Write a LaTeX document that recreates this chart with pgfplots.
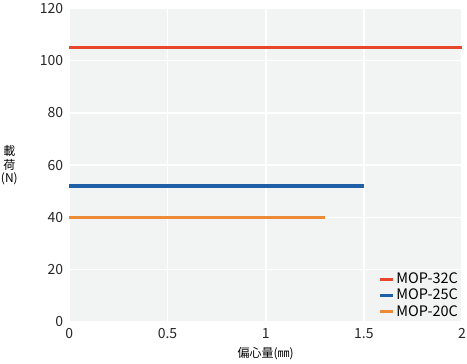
\documentclass[border=0pt]{standalone}
\usepackage{pgfplots}
\pgfplotsset{compat=1.18}
\usepackage{fontspec}
\setmainfont{Noto Sans CJK JP}
\definecolor{bgc}{HTML}{F2F3F3}
\definecolor{c32}{HTML}{E8462A}
\definecolor{c25}{HTML}{1F5FA8}
\definecolor{c20}{HTML}{EC8A35}
\begin{document}
\begin{tikzpicture}
\begin{axis}[
  scale only axis, width=393pt, height=314pt,
  xmin=0, xmax=2, ymin=0, ymax=120,
  xtick={0,0.5,1,1.5,2}, ytick={0,20,...,120},
  xticklabels={0,0.5,1,1.5,2},
  axis background/.style={fill=bgc},
  axis line style={draw=none},
  major tick length=0pt,
  grid=major, grid style={white, line width=1.6pt},
  tick label style={font=\fontsize{14}{16}\selectfont, text=black!85, inner sep=1pt},
  yticklabel style={xshift=-5pt, inner ysep=3pt},
  xticklabel style={yshift=-5pt},
  /pgf/number format/assume math mode=true,
  xlabel={偏心量(㎜)},
  xlabel style={at={(rel axis cs:0.5,0)}, anchor=center, yshift=-32pt,
    font=\fontsize{12}{14}\selectfont, inner ysep=3pt},
  ylabel={\shortstack{載\\荷\\(N)}},
  ylabel style={at={(rel axis cs:0,0.5)}, anchor=center, rotate=-90,
    xshift=-60pt, font=\fontsize{12}{13}\selectfont, inner sep=1pt},
  legend style={at={(1,0.0)}, anchor=south east, draw=none, fill=none,
    font=\fontsize{14.5}{15}\selectfont, row sep=0pt, inner sep=2pt},
  legend cell align=left,
  legend image code/.code={\draw[#1, line width=3pt] (0pt,0pt) -- (13pt,0pt);},
  clip=false,
]
\addplot[c32, line width=3.5pt] coordinates {(0,105) (2,105)};
\addlegendentry{MOP-32C}
\addplot[c25, line width=3.5pt] coordinates {(0,52) (1.5,52)};
\addlegendentry{MOP-25C}
\addplot[c20, line width=3.5pt] coordinates {(0,40) (1.3,40)};
\addlegendentry{MOP-20C}
\end{axis}
\end{tikzpicture}
\end{document}
